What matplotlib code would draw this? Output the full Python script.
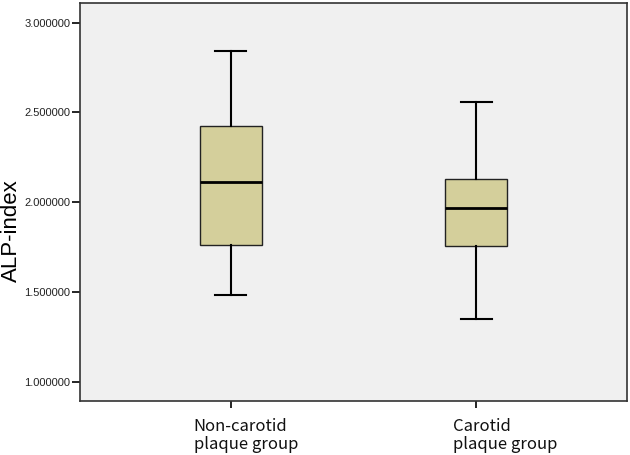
import matplotlib
matplotlib.use("Agg")
import matplotlib.pyplot as plt

categories = ["Non-carotid\nplaque group", "Carotid\nplaque group"]
positions = [1, 2]
whislo = [1.486, 1.349]
q1 = [1.763, 1.757]
med = [2.113, 1.967]
q3 = [2.427, 2.132]
whishi = [2.844, 2.559]
yticks = [1.0, 1.5, 2.0, 2.5, 3.0]

plt.rcParams['font.family'] = ['Noto Sans CJK SC', 'DejaVu Sans']

fig = plt.figure(figsize=(6.3, 4.55), dpi=100)
ax = fig.add_axes([80/630, 1-401/455, 547/630, (401-3.3)/455])
ax.set_facecolor('#f0f0f0')

stats = []
for i in range(len(categories)):
    stats.append(dict(whislo=whislo[i], q1=q1[i], med=med[i], q3=q3[i],
                      whishi=whishi[i], fliers=[], label=categories[i]))

ax.bxp(stats, positions=positions, widths=0.252, patch_artist=True,
       showfliers=False,
       boxprops=dict(facecolor='#d4cf9b', edgecolor='#222222', linewidth=1.0),
       medianprops=dict(color='black', linewidth=2.0),
       whiskerprops=dict(color='black', linewidth=1.5),
       capprops=dict(color='black', linewidth=1.5),
       capwidths=0.126)

ax.set_xlim(0.386, 2.614)
ax.set_ylim(0.893, 3.108)
ax.set_yticks(yticks)
ax.set_yticklabels([f"{v:.6f}" for v in yticks], fontsize=8, color='#222222',
                   family=['Liberation Sans', 'DejaVu Sans'])
ax.set_xticks(positions)
ax.set_xticklabels([])
# pixel offsets of the left edge of each label from its tick
offsets = [-37, -23]
for x, lab, off in zip(positions, categories, offsets):
    ax.annotate(lab, xy=(x, 0), xycoords=('data', 'axes fraction'),
                xytext=(off * 0.72, -12), textcoords='offset points',
                ha='left', va='top', fontsize=12, linespacing=1.12,
                color='#111111', annotation_clip=False)
ax.tick_params(axis='y', direction='out', length=6, width=1.2, pad=1)
ax.tick_params(axis='x', direction='out', length=5, width=1.2)
for s in ax.spines.values():
    s.set_color('#333333')
    s.set_linewidth(1.2)

ax.set_ylabel("ALP-index", fontsize=16, family=['Liberation Sans', 'DejaVu Sans'])
ax.yaxis.set_label_coords(-0.107, 0.429)

fig.savefig("out.png", dpi=100)
